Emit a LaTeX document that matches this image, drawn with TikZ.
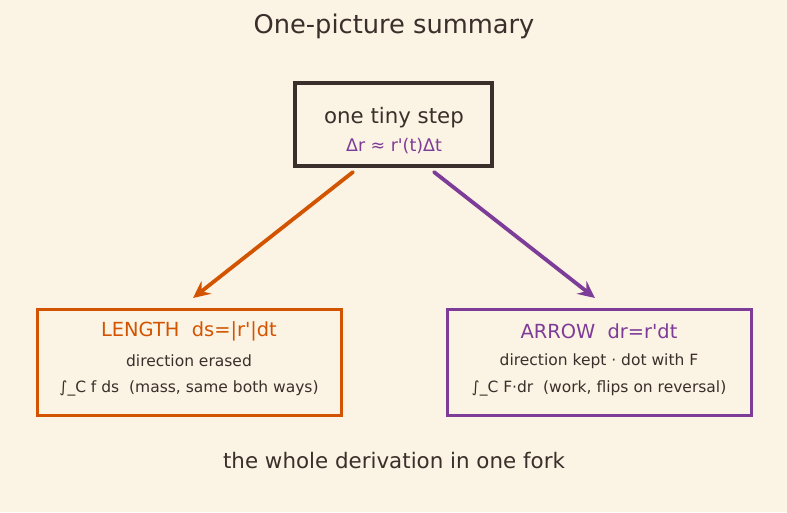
\documentclass[tikz,border=0pt]{standalone}
\usepackage{fontspec}
\setmainfont{DejaVu Sans}[Ligatures=TeXReset]
\usetikzlibrary{arrows.meta}
\definecolor{bg}{HTML}{FBF3E3}
\definecolor{ink}{HTML}{3A2F2A}
\definecolor{orng}{HTML}{D35400}
\definecolor{purp}{HTML}{7D3C98}
\newcommand{\ap}{\char39}
\tikzset{
  box/.style={draw, line width=3.0pt, minimum height=#1},
  txt/.style={inner sep=0pt, text=ink},
  conn/.style={line width=3.8pt, -{Stealth[length=17pt,width=16pt,inset=6pt]}, line cap=round},
}
\begin{document}
\begin{tikzpicture}[x=1pt,y=-1pt]
\fill[bg] (0,0) rectangle (787,512);
\useasboundingbox (0,0) rectangle (787,512);
% boxes
\node[box=83pt, draw=ink, line width=3.1pt, minimum width=197pt] (top) at (393.5,124.5) {};
\node[box=106pt, draw=orng, minimum width=304pt] (left) at (189,362) {};
\node[box=106pt, draw=purp, minimum width=304pt] (right) at (599,362) {};
% texts
\node[txt, font=\fontsize{25.7}{30}\selectfont] (title) at (394,26) {One-picture summary};
\node[txt, font=\fontsize{21.3}{25}\selectfont] (step) at (394,118) {one tiny step};
\node[txt, text=purp, font=\fontsize{17.4}{21}\selectfont] (dr) at (394,146) {Δr ≈ r\ap(t)Δt};
\node[txt, text=orng, font=\fontsize{19.4}{23}\selectfont] (lenh) at (189,331) {LENGTH\ \ ds=|r\ap|dt};
\node[txt, font=\fontsize{15.5}{19}\selectfont] (len1) at (189,361) {direction erased};
\node[txt, font=\fontsize{15.5}{19}\selectfont] (len2) at (189,388) {∫\_C f ds\ \ (mass, same both ways)};
\node[txt, text=purp, font=\fontsize{19.4}{23}\selectfont] (arrh) at (599,331) {ARROW\ \ dr=r\ap dt};
\node[txt, font=\fontsize{15.5}{19}\selectfont] (arr1) at (599,361) {direction kept · dot with F};
\node[txt, font=\fontsize{15.5}{19}\selectfont] (arr2) at (599,388) {∫\_C F·dr\ \ (work, flips on reversal)};
\node[txt, font=\fontsize{21.4}{25}\selectfont] (foot) at (394,461) {the whole derivation in one fork};
% connectors
\coordinate (s1) at (353,172);
\coordinate (e1) at (193,298);
\coordinate (s2) at (434,172);
\coordinate (e2) at (595,298);
\draw[conn, orng] (s1) -- (e1);
\draw[conn, purp] (s2) -- (e2);
\end{tikzpicture}
\end{document}
